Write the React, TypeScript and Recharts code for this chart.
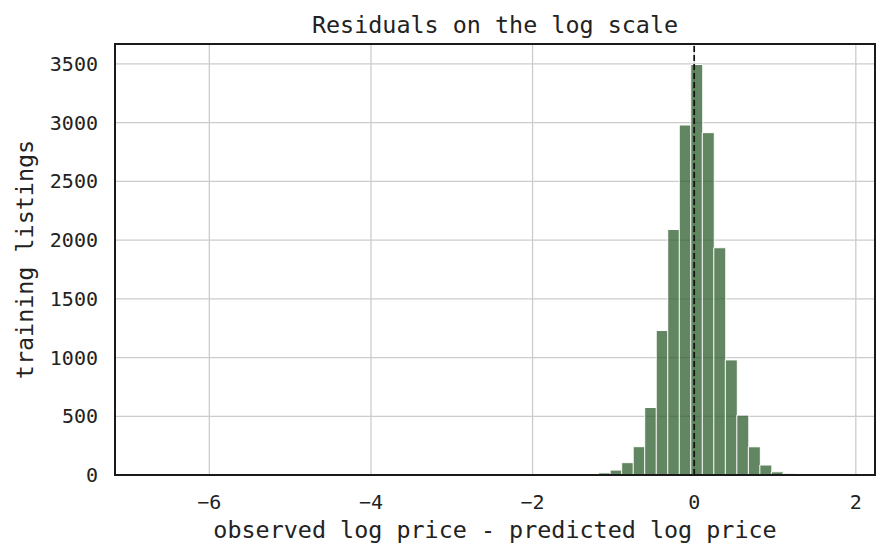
import { Bar, CartesianGrid, Cell, ComposedChart, ReferenceArea, ReferenceLine, XAxis, YAxis } from "recharts";

// histogram of residuals: 60 equal-width bins between the smallest and largest residual
const residualMin = -6.74;
const residualMax = 1.81;
const binCount = 60;

const binCounts = [
  1, 0, 0, 0, 0, 0, 0, 0, 0, 0,
  0, 0, 0, 0, 0, 0, 0, 0, 0, 0,
  0, 0, 0, 0, 0, 0, 0, 0, 1, 0,
  0, 0, 0, 1, 0, 2, 2, 4, 8, 18,
  42, 105, 241, 575, 1230, 2090, 2980, 3495, 2915, 1935,
  980, 510, 240, 85, 27, 14, 5, 2, 1, 1
];

const xTicks = [-6, -4, -2, 0, 2];
const yTicks = [0, 500, 1000, 1500, 2000, 2500, 3000, 3500];

const binWidth = (residualMax - residualMin) / binCount;
const data = binCounts.map((count, i) => ({
  center: residualMin + (i + 0.5) * binWidth,
  count
}));

// matplotlib style 5% padding on x, 5% headroom on y
const pad = (residualMax - residualMin) * 0.05;
const xDomain = [residualMin - pad, residualMax + pad];
const yDomain = [0, Math.max(...binCounts) * 1.05];

const FONT = "'DejaVu Sans Mono', monospace";
const INK = "#222";
const FRAME = "#1a1a1a";

const fmtMinus = (v: number) => (v < 0 ? "\u2212" + Math.abs(v) : String(v));

export default function App() {
  return (
    <div style={{ position: "absolute", left: 0, top: 0, width: 888, height: 558, background: "#fff" }}>
      <div
        style={{
          position: "absolute",
          left: 115,
          width: 760,
          top: 11,
          textAlign: "center",
          fontFamily: FONT,
          fontSize: 23.4,
          color: INK
        }}
      >
        Residuals on the log scale
      </div>
      <ComposedChart
        width={888}
        height={558}
        data={data}
        barCategoryGap={0}
        barGap={0}
        margin={{ top: 44, right: 13, bottom: 0, left: 13 }}
      >
        <CartesianGrid stroke="#cccccc" strokeWidth={1.3} />
        <ReferenceArea
          x1={xDomain[0]}
          x2={xDomain[1]}
          y1={yDomain[0]}
          y2={yDomain[1]}
          fill="none"
          fillOpacity={0}
          stroke={FRAME}
          strokeWidth={2}
          ifOverflow="visible"
        />
        <Bar dataKey="count" fill="#2e5c2e" fillOpacity={0.75} strokeWidth={1} isAnimationActive={false}>
          {data.map((d, i) => (
            <Cell key={i} stroke={d.count > 0 ? "#ffffff" : "none"} />
          ))}
        </Bar>
        <ReferenceLine x={0} stroke="#111" strokeWidth={1.7} strokeDasharray="6 3" />
        <XAxis
          dataKey="center"
          type="number"
          domain={xDomain}
          ticks={xTicks}
          allowDataOverflow
          height={83}
          tickLine={false}
          axisLine={{ stroke: FRAME, strokeWidth: 2 }}
          tickSize={0}
          tickMargin={20}
          tickFormatter={fmtMinus}
          tick={{ fontFamily: FONT, fontSize: 20, fill: INK }}
          label={{
            value: "observed log price - predicted log price",
            position: "insideBottom",
            offset: 20,
            style: { fontFamily: FONT, fontSize: 23.4, fill: INK }
          }}
        />
        <YAxis
          type="number"
          domain={yDomain}
          ticks={yTicks}
          allowDataOverflow
          width={102}
          tickLine={false}
          axisLine={{ stroke: FRAME, strokeWidth: 2 }}
          tickSize={0}
          tickMargin={17}
          tick={{ fontFamily: FONT, fontSize: 20, fill: INK }}
          label={{
            value: "training listings",
            content: (props: any) => {
              const vb = props.viewBox;
              const cx = 25;
              const cy = vb.y + vb.height / 2;
              return (
                <text
                  x={cx}
                  y={cy}
                  transform={`rotate(-90 ${cx} ${cy})`}
                  textAnchor="middle"
                  dominantBaseline="central"
                  fontFamily={FONT}
                  fontSize={23.4}
                  fill={INK}
                >
                  training listings
                </text>
              );
            }
          }}
        />
      </ComposedChart>
    </div>
  );
}
